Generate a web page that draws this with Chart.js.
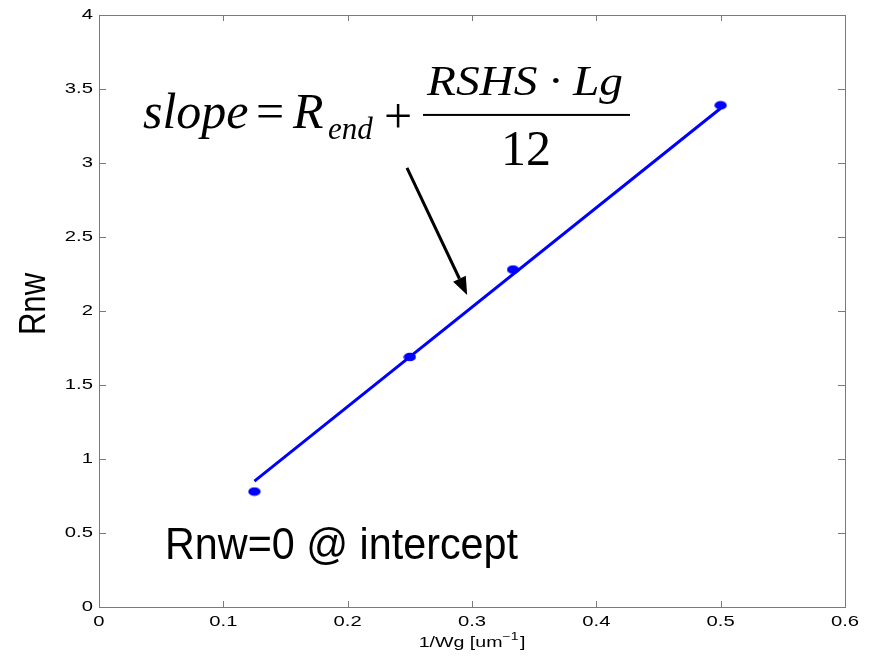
<!DOCTYPE html>
<html>
<head>
<meta charset="utf-8">
<script src="https://cdn.jsdelivr.net/npm/chart.js@4.4.1/dist/chart.umd.min.js"></script>
<style>
  html, body { margin: 0; padding: 0; background: #fff; }
  #wrap { width: 872px; height: 656px; }
</style>
</head>
<body>
<div id="wrap"><canvas id="chart" width="872" height="656"></canvas></div>
<script>
// measured points and the fitted line
const invWg = [0.125, 0.25, 0.333, 0.5];
const rnw = [0.78, 1.69, 2.28, 3.39];
const fitInvWg = [0.125, 0.5];
const fitRnw = [0.85, 3.37];

const xTickLabels = ['0', '0.1', '0.2', '0.3', '0.4', '0.5', '0.6'];
const yTickLabels = ['0', '0.5', '1', '1.5', '2', '2.5', '3', '3.5', '4'];

// annotation anchors, in data units
const formulaAt = [0.037, 3.237];
const arrowFrom = [0.2477, 2.967];
const arrowTo = [0.2961, 2.108];
const noteAt = [0.0531, 0.321];
const noteText = 'Rnw=0 @ intercept';

const SX = 1.4; // the matlab figure text looks stretched sideways
const SANS = '"Liberation Sans", Arial, sans-serif';
const SERIF = '"Liberation Serif", "Times New Roman", serif';

// little oval marker like in the picture
const dot = document.createElement('canvas');
dot.width = 13; dot.height = 10;
(function () {
  const c = dot.getContext('2d');
  c.fillStyle = '#0000ff';
  c.beginPath();
  c.ellipse(6.5, 5, 6.2, 4.3, 0, 0, Math.PI * 2);
  c.fill();
})();

function stretched(ctx, text, x, y, align, sx) {
  ctx.save();
  ctx.translate(x, y);
  ctx.scale(sx, 1);
  ctx.textAlign = align;
  ctx.fillText(text, 0, 0);
  ctx.restore();
}

function fitWidth(ctx, text, x, y, width) {
  const w = ctx.measureText(text).width;
  ctx.save();
  ctx.translate(x, y);
  ctx.scale(width / w, 1);
  ctx.textAlign = 'left';
  ctx.fillText(text, 0, 0);
  ctx.restore();
}

const matlabAxes = {
  id: 'matlabAxes',
  afterDraw(chart) {
    const ctx = chart.ctx;
    const a = chart.chartArea;
    const xs = chart.scales.x, ys = chart.scales.y;
    ctx.save();

    // box + inward ticks on all sides
    ctx.strokeStyle = '#7a7a7a';
    ctx.lineWidth = 1;
    ctx.strokeRect(a.left + 0.5, a.top + 0.5, a.right - a.left, a.bottom - a.top);
    ctx.beginPath();
    xs.ticks.forEach(t => {
      const px = Math.round(xs.getPixelForValue(t.value)) + 0.5;
      ctx.moveTo(px, a.bottom); ctx.lineTo(px, a.bottom - 6);
      ctx.moveTo(px, a.top); ctx.lineTo(px, a.top + 6);
    });
    ys.ticks.forEach(t => {
      const py = Math.round(ys.getPixelForValue(t.value)) + 0.5;
      ctx.moveTo(a.left, py); ctx.lineTo(a.left + 7, py);
      ctx.moveTo(a.right, py); ctx.lineTo(a.right - 7, py);
    });
    ctx.stroke();

    // tick labels
    ctx.fillStyle = '#000';
    ctx.font = '15px ' + SANS;
    ctx.textBaseline = 'middle';
    xs.ticks.forEach((t, i) => {
      stretched(ctx, xTickLabels[i], xs.getPixelForValue(t.value), a.bottom + 15, 'center', 1.35);
    });
    ys.ticks.forEach((t, i) => {
      stretched(ctx, yTickLabels[i], a.left - 6, ys.getPixelForValue(t.value), 'right', 1.35);
    });

    // x title with superscript
    ctx.textBaseline = 'alphabetic';
    const midX = (a.left + a.right) / 2;
    ctx.font = '14px ' + SANS;
    const p1 = '1/Wg [um', p3 = ']';
    const w1 = ctx.measureText(p1).width, w3 = ctx.measureText(p3).width;
    ctx.font = '10px ' + SANS;
    const p2 = '\u22121';
    const w2 = ctx.measureText(p2).width + 1;
    let left = midX - (w1 + w2 + w3) * SX / 2;
    ctx.font = '14px ' + SANS;
    stretched(ctx, p1, left, 647, 'left', SX);
    ctx.font = '10px ' + SANS;
    stretched(ctx, p2, left + w1 * SX, 640, 'left', SX);
    ctx.font = '14px ' + SANS;
    stretched(ctx, p3, left + (w1 + w2) * SX, 647, 'left', SX);

    // y title (narrow sans)
    ctx.save();
    ctx.translate(45, 304);
    ctx.rotate(-Math.PI / 2);
    ctx.scale(0.84, 1);
    ctx.font = '37px ' + SANS;
    ctx.textAlign = 'center';
    ctx.fillText('Rnw', 0, 0);
    ctx.restore();

    // formula
    const fx = xs.getPixelForValue(formulaAt[0]);
    const fy = ys.getPixelForValue(formulaAt[1]);
    ctx.textAlign = 'left';
    ctx.font = 'italic 50px ' + SERIF;
    ctx.fillText('slope', fx - 2, fy);
    ctx.font = '50px ' + SERIF;
    ctx.fillText('=', fx + 111, fy);
    ctx.font = 'italic 50px ' + SERIF;
    ctx.fillText('R', fx + 148, fy);
    ctx.font = 'italic 31px ' + SERIF;
    ctx.fillText('end', fx + 183, fy + 11);
    ctx.font = '50px ' + SERIF;
    ctx.textAlign = 'center';
    ctx.fillText('+', fx + 253, fy + 5);
    ctx.fillText('12', fx + 381, fy + 37);
    ctx.fillRect(fx + 278, fy - 14, 207, 2);
    ctx.font = 'italic 42px ' + SERIF;
    fitWidth(ctx, 'RSHS \u00b7 Lg', fx + 282, fy - 33, 196);

    // arrow
    const ax0 = xs.getPixelForValue(arrowFrom[0]), ay0 = ys.getPixelForValue(arrowFrom[1]);
    const ax1 = xs.getPixelForValue(arrowTo[0]), ay1 = ys.getPixelForValue(arrowTo[1]);
    const ang = Math.atan2(ay1 - ay0, ax1 - ax0);
    const hl = 18, hw = 7;
    const bx = ax1 - hl * Math.cos(ang), by = ay1 - hl * Math.sin(ang);
    ctx.strokeStyle = '#000';
    ctx.lineWidth = 3;
    ctx.beginPath();
    ctx.moveTo(ax0, ay0);
    ctx.lineTo(bx, by);
    ctx.stroke();
    ctx.beginPath();
    ctx.moveTo(ax1, ay1);
    ctx.lineTo(bx + hw * Math.sin(ang), by - hw * Math.cos(ang));
    ctx.lineTo(bx - hw * Math.sin(ang), by + hw * Math.cos(ang));
    ctx.closePath();
    ctx.fillStyle = '#000';
    ctx.fill();

    // note
    ctx.font = '44px ' + SANS;
    fitWidth(ctx, noteText, xs.getPixelForValue(noteAt[0]), ys.getPixelForValue(noteAt[1]), 353);

    ctx.restore();
  }
};

const ctx = document.getElementById('chart').getContext('2d');

const chart = new Chart(ctx, {
  type: 'scatter',
  data: {
    datasets: [
      {
        label: 'Rnw',
        data: invWg.map((x, i) => ({ x: x, y: rnw[i] })),
        pointStyle: dot,
        pointRadius: 6,
        showLine: false,
      },
      {
        label: 'fit',
        data: fitInvWg.map((x, i) => ({ x: x, y: fitRnw[i] })),
        showLine: true,
        borderColor: '#0000ff',
        borderWidth: 3,
        pointRadius: 0,
        fill: false,
      },
    ],
  },
  options: {
    responsive: false,
    animation: false,
    layout: { padding: { top: 15, right: 27, left: 0, bottom: 0 } },
    plugins: { legend: { display: false }, tooltip: { enabled: false } },
    scales: {
      x: {
        type: 'linear', min: 0, max: 0.6,
        ticks: { display: false, stepSize: 0.1 },
        grid: { display: false, drawTicks: false },
        border: { display: false },
        afterFit: s => { s.height = 49; },
      },
      y: {
        type: 'linear', min: 0, max: 4,
        ticks: { display: false, stepSize: 0.5 },
        grid: { display: false, drawTicks: false },
        border: { display: false },
        afterFit: s => { s.width = 99; },
      },
    },
  },
  plugins: [matlabAxes],
});
</script>
</body>
</html>
